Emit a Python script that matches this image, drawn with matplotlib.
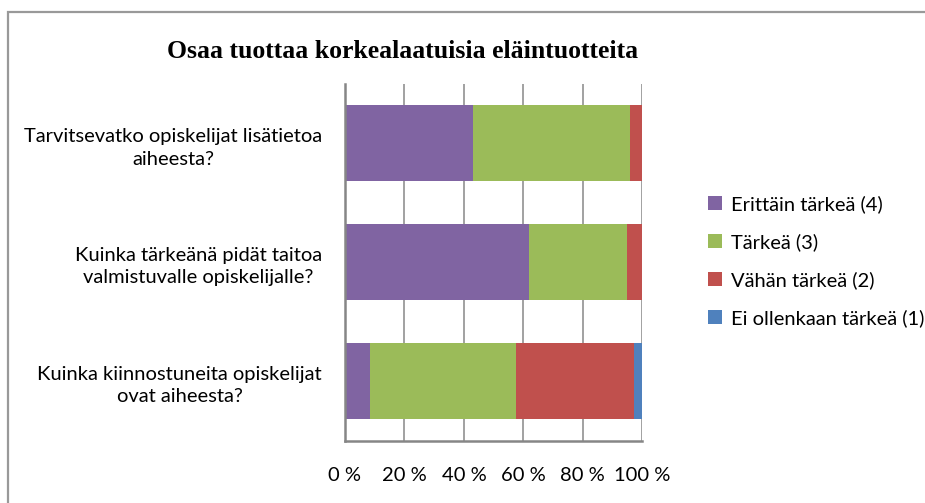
import matplotlib
matplotlib.use("Agg")
import matplotlib.pyplot as plt
import matplotlib.patches as mpatches
import numpy as np

title = "Osaa tuottaa korkealaatuisia eläintuotteita"
categories = [
    "Tarvitsevatko opiskelijat lisätietoa\naiheesta?",
    "Kuinka tärkeänä pidät taitoa\nvalmistuvalle opiskelijalle?",
    "Kuinka kiinnostuneita opiskelijat\novat aiheesta?",
]
series_names = ["Erittäin tärkeä (4)", "Tärkeä (3)", "Vähän tärkeä (2)", "Ei ollenkaan tärkeä (1)"]
erittain = [43.1, 61.9, 8.4]
tarkea = [52.8, 33.1, 49.1]
vahan = [4.1, 5.0, 39.7]
ei_ollenkaan = [0.0, 0.0, 2.8]
colors = ["#8064A2", "#9BBB59", "#C0504D", "#4F81BD"]
xticks = [0, 20, 40, 60, 80, 100]
xticklabels = ["0 %", "20 %", "40 %", "60 %", "80 %", "100 %"]

font = "Lato"
fs = 14.5
fig = plt.figure(figsize=(9.25, 5.03), dpi=100)
ax = fig.add_axes([345/925, (503-440.7)/503, (642.3-345)/925, (440.7-84)/503])

y = np.arange(len(categories))[::-1]
left = np.zeros(len(categories))
handles = []
for vals, name, c in zip([erittain, tarkea, vahan, ei_ollenkaan], series_names, colors):
    b = ax.barh(y, vals, left=left, height=0.64, color=c, label=name, zorder=3)
    left += np.array(vals)
    handles.append(b)

ax.set_xlim(0, 100)
ax.set_ylim(-0.5, 2.5)
ax.set_xticks(xticks)
ax.set_xticklabels(xticklabels, fontsize=fs, family=font)
ax.set_yticks(y)
ax.set_yticklabels(categories, fontsize=fs, family=font, ha="right",
                   multialignment="center", linespacing=1.4)
ax.tick_params(axis="y", length=0, pad=(345 - 322) / 1.389)
ax.tick_params(axis="x", length=0, pad=19)
ax.grid(axis="x", color="#9a9a9a", lw=1.3, zorder=0)
for s in ["top", "right"]:
    ax.spines[s].set_visible(False)
for s in ["left", "bottom"]:
    ax.spines[s].set_color("#868686")
    ax.spines[s].set_linewidth(1.8)
    ax.spines[s].set_zorder(4)

fig.text(403/925, 1 - 51/503, title, ha="center", va="center", fontsize=18.5,
         family="Liberation Serif", weight="bold")

leg = fig.legend(handles=handles, labels=series_names, loc="upper left",
                 bbox_to_anchor=(708/925, 1 - 195/503), frameon=False,
                 prop={"family": font, "size": fs}, handlelength=0.7, handleheight=0.7,
                 handletextpad=0.45, labelspacing=1.0, borderpad=0, borderaxespad=0)

fig.patches.append(mpatches.Rectangle((7.5/925, -0.1), 1.2, 1.1 - 12/503, transform=fig.transFigure,
                                      fill=False, edgecolor="#999999", lw=1.6))

fig.savefig("out.png", dpi=100, facecolor="white")
